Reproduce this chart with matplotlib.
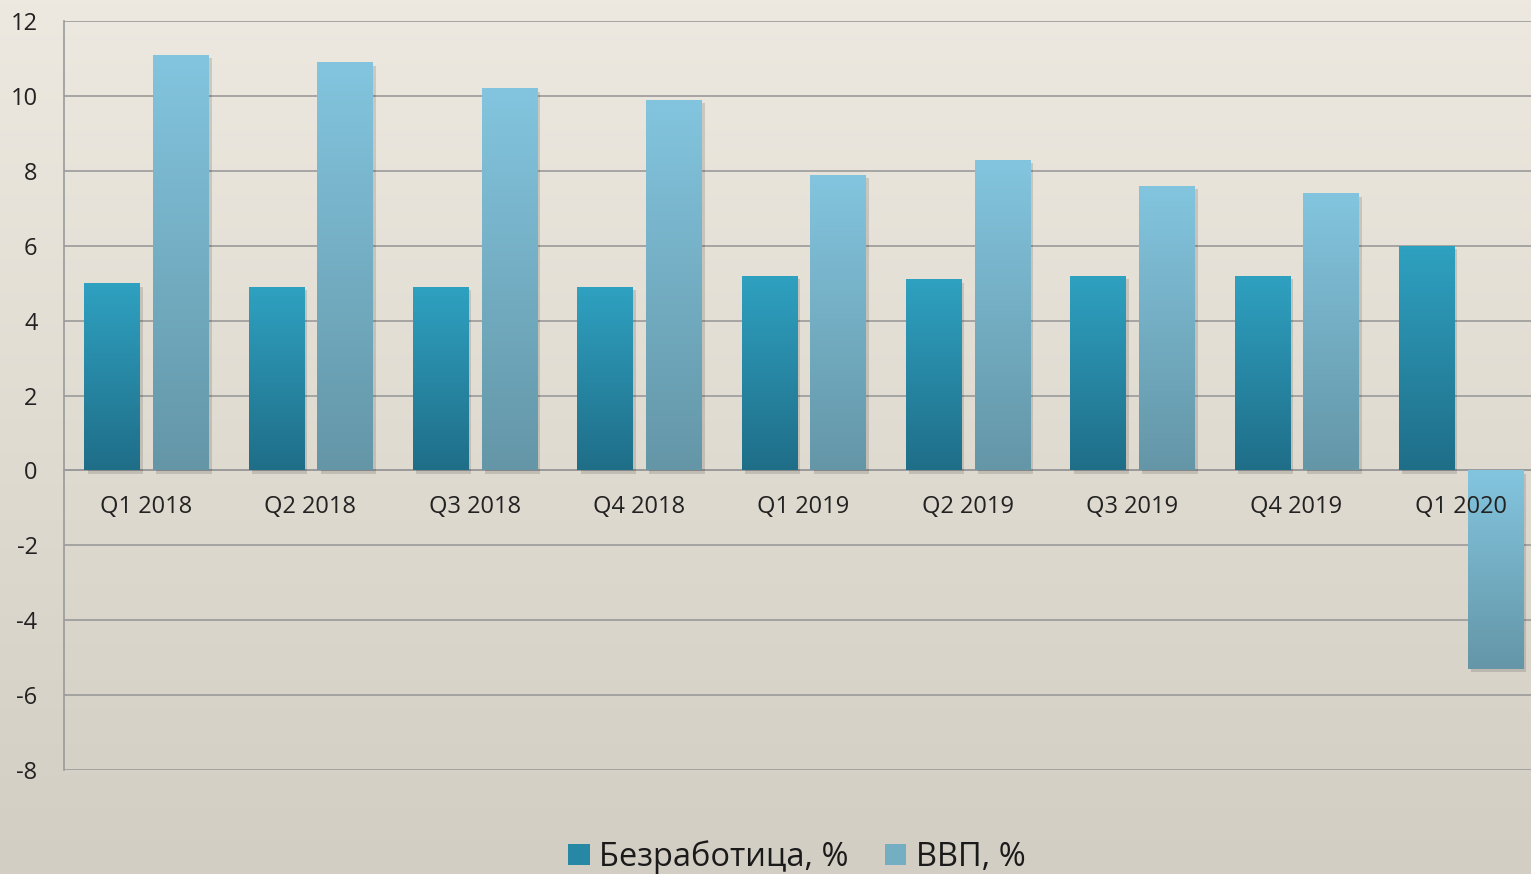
import numpy as np
import matplotlib
matplotlib.use("Agg")
import matplotlib.pyplot as plt
import matplotlib.patheffects as pe
from matplotlib.colors import LinearSegmentedColormap
from matplotlib.patches import Patch

categories = ["Q1 2018", "Q2 2018", "Q3 2018", "Q4 2018", "Q1 2019",
              "Q2 2019", "Q3 2019", "Q4 2019", "Q1 2020"]
unemployment = [5.0, 4.9, 4.9, 4.9, 5.2, 5.1, 5.2, 5.2, 6.0]
gdp = [11.1, 10.9, 10.2, 9.9, 7.9, 8.3, 7.6, 7.4, -5.3]
series_names = ["Безработица, %", "ВВП, %"]
yticks = list(range(-8, 13, 2))

plt.rcParams['font.family'] = ['Open Sans', 'DejaVu Sans']

fig = plt.figure(figsize=(15.31, 8.74), dpi=100)

# background gradient
bg = fig.add_axes([0, 0, 1, 1], zorder=-10)
bg_cmap = LinearSegmentedColormap.from_list("bg", ["#D3CEC3", "#EDE9E0"])
grad = np.linspace(0, 1, 256).reshape(-1, 1)
bg.imshow(grad, aspect='auto', cmap=bg_cmap, origin='lower', extent=[0, 1, 0, 1])
bg.set_axis_off()

ax = fig.add_axes([64/1531, 1-770/874, 1479/1531, (770-21)/874])
ax.set_facecolor('none')

x = np.arange(len(categories))
w = 0.335
off = 0.209

cm_u = LinearSegmentedColormap.from_list("u", ["#1F6E88", "#2FA1C1"])
cm_g = LinearSegmentedColormap.from_list("g", ["#6496A7", "#83C5DF"])

shadow = [pe.SimplePatchShadow(offset=(2.5, -2.5), shadow_rgbFace='#000000', alpha=0.13), pe.Normal()]

def grad_bars(xs, vals, cmap):
    bars = ax.bar(xs, vals, width=w, color=cmap(0.5), zorder=3, linewidth=0)
    for b in bars:
        b.set_path_effects(shadow)
        x0, y0 = b.get_x(), b.get_y()
        x1, y1 = x0 + b.get_width(), y0 + b.get_height()
        lo, hi = min(y0, y1), max(y0, y1)
        g = np.linspace(0, 1, 256).reshape(-1, 1)
        im = ax.imshow(g, aspect='auto', cmap=cmap, origin='lower',
                       extent=[x0, x1, lo, hi], zorder=4)
        im.set_clip_path(b)
    return bars

grad_bars(x - off, unemployment, cm_u)
grad_bars(x + off, gdp, cm_g)

ax.set_xlim(-0.5, len(categories) - 0.5)
ax.set_ylim(-8, 12)
ax.set_yticks(yticks)
ax.set_yticklabels([str(t) for t in yticks])
ax.yaxis.grid(True, color='#9A9A9A', linewidth=1.2)
ax.set_axisbelow(True)

ax.set_xticks(x)
ax.set_xticklabels(categories)
ax.spines['bottom'].set_position(('data', 0))
ax.spines['bottom'].set_color('#9A9A9A')
ax.spines['bottom'].set_linewidth(1.2)
ax.spines['bottom'].set_zorder(1)
ax.spines['left'].set_color('#9A9A9A')
ax.spines['left'].set_linewidth(1.2)
ax.spines['top'].set_visible(False)
ax.spines['right'].set_visible(False)
ax.tick_params(axis='x', length=0, pad=18, labelsize=17, labelcolor='#222222')
ax.tick_params(axis='y', length=0, pad=19, labelsize=17, labelcolor='#222222')
ax.xaxis.set_zorder(10)

handles = [Patch(facecolor=cm_u(0.5), edgecolor='none'),
           Patch(facecolor=cm_g(0.5), edgecolor='none')]
fig.legend(handles, series_names, loc='center', bbox_to_anchor=(797/1531, 1-857/874),
           ncol=2, frameon=False, fontsize=23.5, handlelength=0.65, handleheight=0.65,
           handletextpad=0.3, columnspacing=1.1, labelcolor='#1a1a1a')

fig.savefig("out.png", dpi=100)
